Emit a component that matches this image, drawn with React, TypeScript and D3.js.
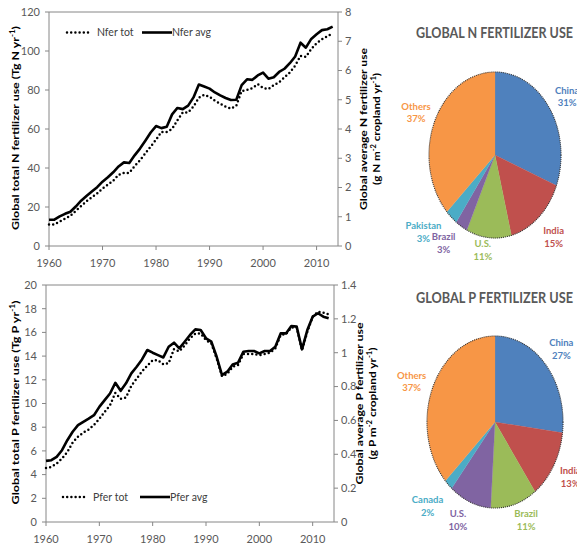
import React from 'react';
import * as d3 from 'd3';

// ---- data ----
const years = [
  1960, 1961, 1962, 1963, 1964, 1965, 1966, 1967, 1968, 1969,
  1970, 1971, 1972, 1973, 1974, 1975, 1976, 1977, 1978, 1979,
  1980, 1981, 1982, 1983, 1984, 1985, 1986, 1987, 1988, 1989,
  1990, 1991, 1992, 1993, 1994, 1995, 1996, 1997, 1998, 1999,
  2000, 2001, 2002, 2003, 2004, 2005, 2006, 2007, 2008, 2009,
  2010, 2011, 2012, 2013,
];

// Tg N / yr
const nferTot = [
  11, 11, 12.5, 14, 15.5, 18, 20.5, 23, 25, 27,
  29.5, 31.5, 33.5, 36.5, 37.5, 37.5, 41, 44, 47.5, 51,
  54.5, 58.5, 58.5, 60, 64.5, 68.5, 68.5, 71.5, 76, 77.5,
  76.5, 74.5, 73, 71.5, 70.5, 72, 79.5, 80, 81, 83,
  81, 80.5, 82.5, 84, 86.5, 89, 92.5, 97.5, 97, 101,
  104, 106, 107.5, 109,
];
// g N / m2 cropland / yr
const nferAvg = [
  0.9, 0.9, 1.01, 1.1, 1.17, 1.35, 1.55, 1.71, 1.86, 2.01,
  2.2, 2.35, 2.52, 2.72, 2.86, 2.84, 3.1, 3.33, 3.6, 3.88,
  4.1, 4.03, 4.08, 4.5, 4.72, 4.68, 4.8, 5.08, 5.52, 5.45,
  5.38, 5.25, 5.15, 5.06, 4.99, 5.0, 5.5, 5.7, 5.68, 5.83,
  5.93, 5.72, 5.77, 5.95, 6.06, 6.25, 6.48, 6.95, 6.78, 7.08,
  7.24, 7.38, 7.41, 7.5,
];
// Tg P / yr
const pferTot = [
  4.56, 4.65, 4.93, 5.35, 5.9, 6.7, 7.2, 7.55, 7.8, 8.2,
  8.7, 9.3, 9.85, 10.9, 10.4, 10.5, 11.5, 12.1, 12.7, 13.2,
  13.65, 13.65, 13.3, 13.4, 14.6, 14.4, 14.9, 15.5, 15.9, 15.9,
  15.35, 15.07, 13.8, 12.3, 12.5, 13.1, 13.24, 14.17, 14.17, 14.17,
  14.08, 14.17, 14.28, 14.65, 15.77, 15.86, 16.42, 16.42, 14.5, 16.06,
  17.32, 17.75, 17.66, 17.52,
];
// g P / m2 cropland / yr
const pferAvg = [
  0.361, 0.365, 0.385, 0.424, 0.483, 0.533, 0.572, 0.592, 0.611, 0.631,
  0.68, 0.72, 0.759, 0.822, 0.775, 0.819, 0.878, 0.917, 0.96, 1.016,
  1.0, 0.986, 0.972, 1.035, 1.059, 1.026, 1.065, 1.105, 1.138, 1.134,
  1.085, 1.065, 0.976, 0.868, 0.888, 0.931, 0.941, 1.006, 1.01, 1.01,
  0.996, 1.01, 1.01, 1.035, 1.114, 1.114, 1.158, 1.154, 1.02, 1.134,
  1.213, 1.233, 1.213, 1.203,
];

const yearTicks = [1960, 1970, 1980, 1990, 2000, 2010];
const nTotTicks = [0, 20, 40, 60, 80, 100, 120];
const nAvgTicks = [0, 1, 2, 3, 4, 5, 6, 7, 8];
const pTotTicks = [0, 2, 4, 6, 8, 10, 12, 14, 16, 18, 20];
const pAvgTicks = [0, 0.2, 0.4, 0.6, 0.8, 1, 1.2, 1.4];

const nCountries = ['China', 'India', 'U.S.', 'Brazil', 'Pakistan', 'Others'];
const nShares = [31, 15, 11, 3, 3, 37];
const pCountries = ['China', 'India', 'Brazil', 'U.S.', 'Canada', 'Others'];
const pShares = [27, 13, 11, 10, 2, 37];

// ---- styling ----
const FONT = "Lato, 'Open Sans', sans-serif";
const AXIS = '#868686';
const TICKTXT = '#595959';
const nColors = ['#4F81BD', '#C0504D', '#9BBB59', '#8064A2', '#4BACC6', '#F79646'];
const pColors = ['#4F81BD', '#C0504D', '#9BBB59', '#8064A2', '#4BACC6', '#F79646'];

const fmt = (v: number) => String(+v.toFixed(1));

function Title({ x, y, len, parts }: any) {
  // rotated axis title, parts: [text, isSup][]
  return (
    <text
      transform={`translate(${x},${y}) rotate(-90)`}
      textAnchor="middle"
      dominantBaseline="central"
      fontFamily={FONT}
      fontWeight="bold"
      fontSize={10}
      fill="#000"
      textLength={len}
      lengthAdjust="spacingAndGlyphs"
    >
      {parts.map((p: any, i: number) =>
        p[1] ? (
          <tspan key={i} fontSize={6.5} dy={-3.5}>{p[0]}</tspan>
        ) : (
          <tspan key={i} dy={i > 0 && parts[i - 1][1] ? 3.5 : 0}>{p[0]}</tspan>
        )
      )}
    </text>
  );
}

function LineChart(props: any) {
  const { x0, x1, yTop, yBot, totTicks, avgTicks, tot, avg, legendY, legend, titles } = props;
  const x = d3.scaleLinear().domain([1960, 2014]).range([x0, x1]);
  const yT = d3.scaleLinear().domain([0, totTicks[totTicks.length - 1]]).range([yBot, yTop]);
  const yA = d3.scaleLinear().domain([0, avgTicks[avgTicks.length - 1]]).range([yBot, yTop]);
  const lineT = d3.line<number>().x((_, i) => x(years[i])).y(d => yT(d));
  const lineA = d3.line<number>().x((_, i) => x(years[i])).y(d => yA(d));
  const mid = (yTop + yBot) / 2;
  return (
    <g>
      {/* frame */}
      <line x1={x0} x2={x1} y1={yTop} y2={yTop} stroke={AXIS} />
      <line x1={x0} x2={x0} y1={yTop} y2={yBot} stroke={AXIS} />
      <line x1={x1} x2={x1} y1={yTop} y2={yBot} stroke={AXIS} />
      <line x1={x0} x2={x1} y1={yBot} y2={yBot} stroke={AXIS} />
      {totTicks.map((t: number) => (
        <g key={'l' + t}>
          <line x1={x0 - 4} x2={x0} y1={yT(t)} y2={yT(t)} stroke={AXIS} />
          <text x={x0 - 9} y={yT(t)} dy="0.35em" textAnchor="end" fontFamily={FONT} fontSize={11} fill={TICKTXT}>{t}</text>
        </g>
      ))}
      {avgTicks.map((t: number) => (
        <g key={'r' + t}>
          <line x1={x1} x2={x1 + 4} y1={yA(t)} y2={yA(t)} stroke={AXIS} />
          <text x={x1 + 7} y={yA(t)} dy="0.35em" textAnchor="start" fontFamily={FONT} fontSize={11} fill={TICKTXT}>{fmt(t)}</text>
        </g>
      ))}
      {yearTicks.map(t => (
        <g key={'x' + t}>
          <line x1={x(t)} x2={x(t)} y1={yBot} y2={yBot + 4} stroke={AXIS} />
          <text x={x(t)} y={yBot + 21} textAnchor="middle" fontFamily={FONT} fontSize={11} fill={TICKTXT}>{t}</text>
        </g>
      ))}
      <path d={lineT(tot) || ''} fill="none" stroke="#000" strokeWidth={2.5} strokeDasharray="0 4.2" strokeLinecap="round" />
      <path d={lineA(avg) || ''} fill="none" stroke="#000" strokeWidth={2.6} strokeLinejoin="round" />
      {/* legend */}
      <line x1={legend[0]} x2={legend[0] + 25} y1={legendY} y2={legendY} stroke="#000" strokeWidth={2.5} strokeDasharray="0 4.2" strokeLinecap="round" />
      <text x={legend[0] + 30} y={legendY} dy="0.35em" fontFamily={FONT} fontSize={10.5} fill="#404040">{legend[2]}</text>
      <line x1={legend[1]} x2={legend[1] + 30} y1={legendY} y2={legendY} stroke="#000" strokeWidth={2.6} />
      <text x={legend[1] + 30} y={legendY} dy="0.35em" fontFamily={FONT} fontSize={10.5} fill="#404040">{legend[3]}</text>
      <Title x={15} y={mid - 1} len={204} parts={titles[0]} />
      <Title x={x1 + 25} y={mid} len={162} parts={titles[1]} />
      <Title x={x1 + 38} y={mid} len={112} parts={titles[2]} />
    </g>
  );
}

function Pie(props: any) {
  const { cx, cy, rx, ry, names, shares, colors, title, titleY, nudges } = props;
  const arcs = d3.pie<number>().sort(null).value(d => d)(shares);
  const arc = d3.arc<any>().innerRadius(0).outerRadius(ry);
  const labelArc = d3.arc<any>().innerRadius(ry * 1.32).outerRadius(ry * 1.32);
  const sx = rx / ry;
  return (
    <g>
      <text
        transform={`translate(494.5,${titleY}) scale(1,1.22)`}
        textAnchor="middle"
        fontFamily={FONT} fontWeight="bold" fontSize={11.8} fill="#595959"
        textLength={157} lengthAdjust="spacingAndGlyphs"
      >{title}</text>
      <g transform={`translate(${cx},${cy}) scale(${sx},1)`}>
        {arcs.map((a, i) => (
          <path key={i} d={arc(a) || ''} fill={colors[i]} stroke={colors[i]} strokeWidth={0.3} />
        ))}
        <circle r={ry} fill="none" stroke="#333" strokeWidth={1.1} strokeDasharray="1 1" vectorEffect="non-scaling-stroke" />
      </g>
      {arcs.map((a, i) => {
        const c = labelArc.centroid(a);
        const lx = cx + c[0] * sx + nudges[i][0];
        const ly = cy + c[1] + nudges[i][1];
        return (
          <text key={'t' + i} x={lx} y={ly} textAnchor="middle" fontFamily={FONT} fontWeight="bold" fontSize={9.5} fill={colors[i]}>
            <tspan x={lx} dy="-0.3em">{names[i]}</tspan>
            <tspan x={lx} dy="1.35em">{shares[i]}%</tspan>
          </text>
        );
      })}
    </g>
  );
}

export default function App() {
  return (
    <div style={{ position: 'absolute', left: 0, top: 0 }}>
      <svg width={577} height={548} style={{ display: 'block', background: '#fff' }}>
        <LineChart
          x0={49} x1={338} yTop={12} yBot={246}
          totTicks={nTotTicks} avgTicks={nAvgTicks}
          tot={nferTot} avg={nferAvg}
          legendY={32.5} legend={[67, 142, 'Nfer tot', 'Nfer avg']}
          titles={[
            [['Global total N fertilizer use (Tg N  yr', false], ['-1', true], [')', false]],
            [['Global  average  N fertilizer use', false]],
            [['(g N m', false], ['-2', true], [' cropland yr', false], ['-1', true], [')', false]],
          ]}
        />
        <LineChart
          x0={46} x1={334} yTop={285} yBot={522}
          totTicks={pTotTicks} avgTicks={pAvgTicks}
          tot={pferTot} avg={pferAvg}
          legendY={497} legend={[63, 140, 'Pfer tot', 'Pfer avg']}
          titles={[
            [['Global total P fertilizer use (Tg P  yr', false], ['-1', true], [')', false]],
            [['Global  average  P fertilizer use', false]],
            [['(g P m', false], ['-2', true], [' cropland yr', false], ['-1', true], [')', false]],
          ]}
        />
        <Pie
          cx={495} cy={155} rx={66} ry={83}
          names={nCountries} shares={nShares} colors={nColors}
          title="GLOBAL N FERTILIZER USE" titleY={38}
          nudges={[[0, 3], [1, 0], [-4, -14], [-7, -6], [-14, -5], [1, 1]]}
        />
        <Pie
          cx={495} cy={422} rx={68} ry={86}
          names={pCountries} shares={pShares} colors={pColors}
          title="GLOBAL P FERTILIZER USE" titleY={303}
          nudges={[[-1, 2], [-2, -3], [6, -11], [-4, -8], [-6, 1], [-1, 4.5]]}
        />
      </svg>
    </div>
  );
}
